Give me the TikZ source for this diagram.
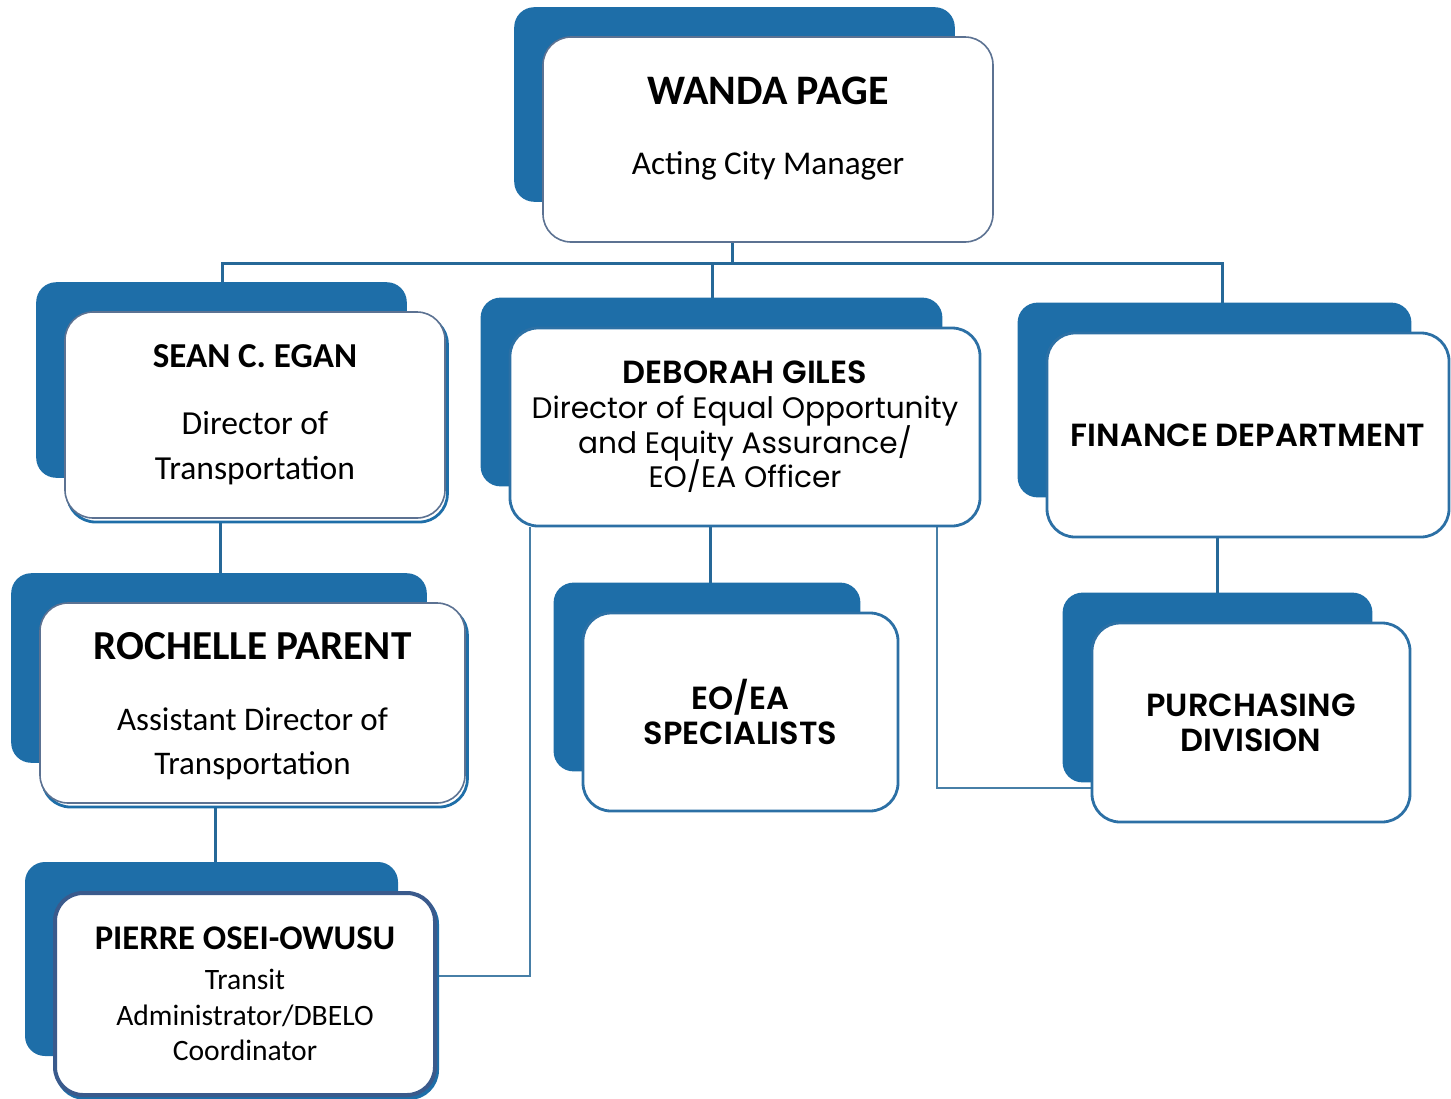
\documentclass[tikz,border=0pt]{standalone}
\usepackage{fontspec}
\setmainfont{Carlito}
\newfontfamily\gothic{Poppins}[BoldFont={Poppins SemiBold}]
\usetikzlibrary{backgrounds,shadows}
\definecolor{cardblue}{RGB}{30,110,168}
\definecolor{edgeblue}{RGB}{44,112,165}
\definecolor{greyblue}{RGB}{92,114,146}
\definecolor{linkblue}{RGB}{38,104,152}
\definecolor{pierreblue}{RGB}{58,90,140}
\tikzset{
  card/.style n args={2}{rectangle,draw=edgeblue,line width=1.4pt,fill=white,
    rounded corners=14pt,align=center,inner sep=0pt,
    minimum width=#1,minimum height=#2},
  person/.style={draw=greyblue,line width=0.8pt},
  lifted/.style={copy shadow={shadow xshift=1.2pt,shadow yshift=-2pt,
    draw=cardblue,fill=white,line width=1.4pt}},
  back/.style={fill=cardblue,rounded corners=10pt},
  link/.style={draw=linkblue,line width=1.5pt},
  thin link/.style={draw=linkblue!85,line width=0.6pt},
  gothic/.style={font=\gothic\fontsize{#1}{17.5}\selectfont}
}
\newcommand{\bossname}[2][20]{{\fontsize{#1}{#1}\selectfont\bfseries #2}}
\newcommand{\office}[1]{{\fontsize{16}{16}\selectfont\bfseries #1}}

\begin{document}
\begin{tikzpicture}[x=0.5pt,y=-0.5pt]
  \useasboundingbox (0,0) rectangle (1451,1098);
  % people
  \node (wanda) [card={225pt}{102.5pt},person,text depth=14pt,
    font=\fontsize{16.6}{19}\selectfont] at (768,139.5)
    {\bossname[21]{WANDA PAGE}\\[16pt]Acting City Manager};
  \node (sean) [card={190pt}{103pt},person,lifted,
    font=\fontsize{16.8}{22.5}\selectfont] at (255,415)
    {\bossname[17.5]{SEAN C. EGAN}\\[11pt]Director of\\Transportation};
  \node (rochelle) [card={212.5pt}{100pt},person,lifted,text depth=-3pt,
    font=\fontsize{16.5}{22}\selectfont] at (252.5,703)
    {\bossname[20.6]{ROCHELLE PARENT}\\[13.5pt]Assistant Director of\\Transportation};
  \node (pierre) [card={190pt}{101pt},draw=pierreblue,line width=2pt,
    copy shadow={shadow xshift=1pt,shadow yshift=-1.5pt,draw=cardblue,
    fill=white,line width=2pt},
    font=\fontsize{14.8}{17.8}\selectfont] at (245,994)
    {\bossname[17.3]{PIERRE OSEI-OWUSU}\\[2pt]Transit\\Administrator/DBELO\\Coordinator};
  % offices
  \node (deborah) [card={235pt}{99pt},gothic=14.8] at (745,427)
    {\office{DEBORAH GILES}\\Director of Equal Opportunity\\[-1.5pt]and Equity Assurance/\\[-1.5pt]EO/EA Officer};
  \node (eoea) [card={157.5pt}{99pt},gothic=14.8] at (740.5,712)
    {\office{EO/EA}\\\office{SPECIALISTS}};
  \node (finance) [card={201pt}{102pt},gothic=14.8] at (1248,435)
    {\office{FINANCE DEPARTMENT}};
  \node (purchasing) [card={159pt}{99.5pt},gothic=14.8] at (1251,722.5)
    {\office{PURCHASING}\\\office{DIVISION}};

  \begin{pgfonlayer}{background}
    % lines
    \draw[link] ([xshift=-18pt]wanda.south) -- ++(0,21) coordinate (bus);
    \draw[link] ([xshift=-16.5pt]sean.north) |- (bus)
      -| ([xshift=-13pt]finance.north);
    \draw[link] ([xshift=-16.5pt]deborah.north) |- (bus);
    \draw[link] ([xshift=-17.5pt]sean.south)
      -- ([xshift=-17.5pt]sean.south |- rochelle.north);
    \draw[link] ([xshift=-18.75pt]rochelle.south)
      -- ([xshift=-18.75pt]rochelle.south |- pierre.north);
    \draw[link] ([xshift=-17.5pt]deborah.south)
      -- ([xshift=-17.5pt]deborah.south |- eoea.north);
    \draw[link] ([xshift=-15.5pt]finance.south)
      -- ([xshift=-15.5pt]finance.south |- purchasing.north);
    \draw[thin link] ([xshift=96pt]deborah.south)
      |- ([yshift=-32.75pt]purchasing.west);
    \draw[thin link] ([xshift=-107.5pt]deborah.south)
      |- ([yshift=9pt]pierre.east);
    % blue cards behind
    \foreach \n in {wanda,sean,rochelle,pierre,deborah,eoea,finance,purchasing}
      \fill[back] ([shift={(-28,-29)}]\n.north west)
        rectangle ([shift={(-39,-41)}]\n.south east);
  \end{pgfonlayer}
\end{tikzpicture}
\end{document}
